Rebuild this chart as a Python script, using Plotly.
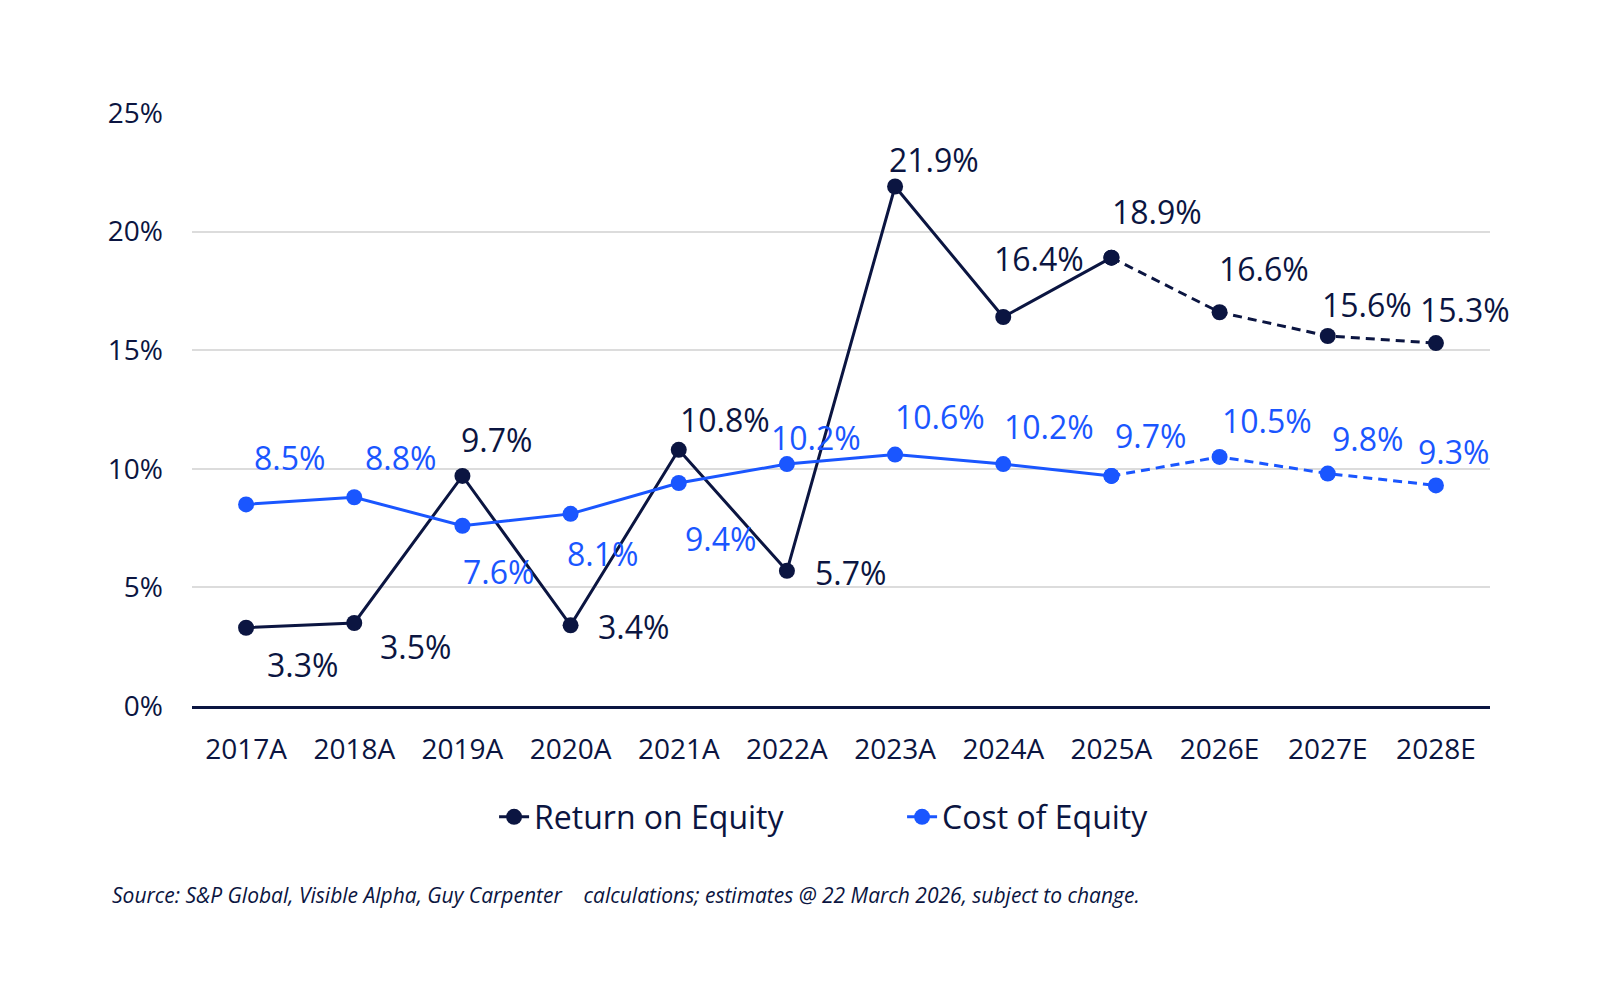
import plotly.graph_objects as go

categories = ["2017A", "2018A", "2019A", "2020A", "2021A", "2022A",
              "2023A", "2024A", "2025A", "2026E", "2027E", "2028E"]
roe = [3.3, 3.5, 9.7, 3.4, 10.8, 5.7, 21.9, 16.4, 18.9, 16.6, 15.6, 15.3]
coe = [8.5, 8.8, 7.6, 8.1, 9.4, 10.2, 10.6, 10.2, 9.7, 10.5, 9.8, 9.3]
y_ticks = [0, 5, 10, 15, 20, 25]
y_tick_labels = ["0%", "5%", "10%", "15%", "20%", "25%"]
n_actual = 9  # 2017A..2025A are actuals; dashed from 2025A onwards

# label offsets in pixels (dx right, dy down)
roe_dx = [56, 61, 34, 63, 46, 64, 39, 36, 46, 44, 39, 29]
roe_dy = [37, 24, -36, 1, -30, 2, -27, -58, -46, -44, -31, -34]
coe_dx = [43, 46, 36, 32, 42, 29, 45, 46, 39, 47, 40, 18]
coe_dy = [-47, -40, 46, 40, 55, -27, -38, -38, -40, -36, -35, -34]

NAVY = "#0b1541"
BLUE = "#1a56ff"
FONT = "Open Sans"

fig = go.Figure()

# Return on Equity
fig.add_trace(go.Scatter(
    x=categories[:n_actual], y=roe[:n_actual], name="Return on Equity",
    mode="lines+markers", line=dict(color=NAVY, width=3),
    marker=dict(size=16, color=NAVY), legendgroup="roe"))
fig.add_trace(go.Scatter(
    x=categories[n_actual - 1:], y=roe[n_actual - 1:], name="Return on Equity",
    mode="lines+markers", line=dict(color=NAVY, width=3, dash="9px,6px"),
    marker=dict(size=16, color=NAVY), legendgroup="roe", showlegend=False))

# Cost of Equity
fig.add_trace(go.Scatter(
    x=categories[:n_actual], y=coe[:n_actual], name="Cost of Equity",
    mode="lines+markers", line=dict(color=BLUE, width=3),
    marker=dict(size=16, color=BLUE), legendgroup="coe"))
fig.add_trace(go.Scatter(
    x=categories[n_actual - 1:], y=coe[n_actual - 1:], name="Cost of Equity",
    mode="lines+markers", line=dict(color=BLUE, width=3, dash="9px,6px"),
    marker=dict(size=16, color=BLUE), legendgroup="coe", showlegend=False))

annotations = []
for c, v, dx, dy in zip(categories, roe, roe_dx, roe_dy):
    annotations.append(dict(x=c, y=v, text=f"{v:.1f}%", showarrow=False,
                            xshift=dx, yshift=-dy, xanchor="center", yanchor="middle",
                            font=dict(family=FONT, size=32, color=NAVY)))
for c, v, dx, dy in zip(categories, coe, coe_dx, coe_dy):
    annotations.append(dict(x=c, y=v, text=f"{v:.1f}%", showarrow=False,
                            xshift=dx, yshift=-dy, xanchor="center", yanchor="middle",
                            font=dict(family=FONT, size=32, color=BLUE)))

annotations.append(dict(
    xref="paper", yref="paper", x=-0.0632, y=-0.319, xanchor="left", yanchor="middle",
    showarrow=False,
    text="<i>Source: S&P Global, Visible Alpha, Guy Carpenter\u00a0\u00a0\u00a0 calculations; "
         "estimates @ 22 March 2026, subject to change.</i>",
    font=dict(family=FONT, size=21, color=NAVY)))

fig.update_layout(
    width=1600, height=1000,
    margin=dict(l=192, r=110, t=113, b=294),
    paper_bgcolor="white", plot_bgcolor="white",
    font=dict(family=FONT, color=NAVY),
    showlegend=True,
    legend=dict(orientation="h", xref="container", yref="container",
                x=0.5638, xanchor="center", y=0.183, yanchor="middle",
                font=dict(family=FONT, size=32, color=NAVY),
                entrywidth=363, entrywidthmode="pixels",
                bgcolor="rgba(0,0,0,0)"),
    annotations=annotations,
)

fig.update_xaxes(
    type="category", categoryorder="array", categoryarray=categories,
    range=[-0.5, len(categories) - 0.5],
    showgrid=False, showline=True, linecolor=NAVY, linewidth=3,
    ticks="", ticklabelstandoff=16,
    tickfont=dict(family=FONT, size=28, color=NAVY), zeroline=False)

fig.update_yaxes(
    range=[0, 25], tickvals=y_ticks, ticktext=y_tick_labels,
    showgrid=True, gridcolor="#dcdcdc", gridwidth=2,
    showline=False, zeroline=False, ticks="", ticklabelstandoff=28,
    tickfont=dict(family=FONT, size=28, color=NAVY))

fig.write_html("out.html")
